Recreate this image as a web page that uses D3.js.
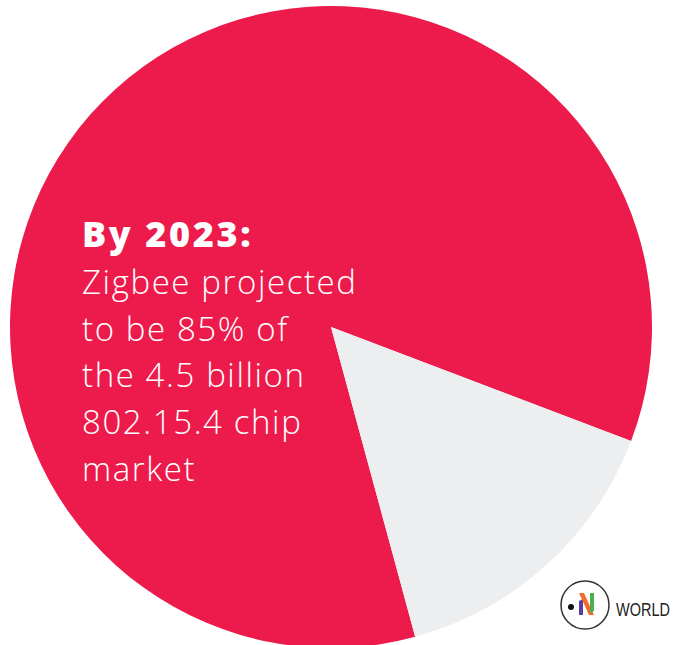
<!DOCTYPE html>
<html>
<head>
<meta charset="utf-8">
<title>Zigbee share pie</title>
<script src="https://cdn.jsdelivr.net/npm/d3@7"></script>
<style>
    body{margin:0;background:#fff;}
    svg{display:block;}
</style>
</head>
<body>
<script>

// data
const segments = ["Zigbee","Other 802.15.4"];
const shares = [85, 15];
const sliceColors = ["#ec1b4b", "#edeef0"];
const headline = "By 2023:";
const bodyLines = ["Zigbee projected","to be 85% of","the 4.5 billion","802.15.4 chip","market"];

const width = 674, height = 645;
const cx = 331, cy = 327, radius = 321;

const svg = d3.select("body").append("svg")
    .attr("width", width)
    .attr("height", height);

// the red slice starts where the grey one ends
const startDeg = 164.8;
const pie = d3.pie()
    .sort(null)
    .startAngle(startDeg * Math.PI / 180)
    .endAngle((startDeg + 360) * Math.PI / 180);

const arc = d3.arc().innerRadius(0).outerRadius(radius);

const data = segments.map((s, i) => ({name: s, value: shares[i]}));

svg.append("g")
    .attr("transform", `translate(${cx},${cy})`)
    .selectAll("path")
    .data(pie.value(d => d.value)(data))
    .join("path")
    .attr("d", arc)
    .attr("fill", (d, i) => sliceColors[i]);

// annotation
const anno = svg.append("g").attr("fill", "#fff");
anno.append("text")
    .attr("x", 82)
    .attr("y", 247)
    .style("font-family", "Open Sans, sans-serif")
    .style("font-weight", 800)
    .style("font-size", "36px")
    .style("letter-spacing", "2.6px")
    .text(headline);

anno.selectAll("text.body")
    .data(bodyLines)
    .join("text")
    .attr("class", "body")
    .attr("x", 82)
    .attr("y", (d, i) => 294 + i * 46.7)
    .style("font-family", "Open Sans, sans-serif")
    .style("font-weight", 300)
    .style("font-size", "33px")
    .style("letter-spacing", "1.6px")
    .text(d => d);

// logo
const logo = svg.append("g").attr("transform", "translate(585,605)");
logo.append("circle").attr("r", 24).attr("fill", "#fff").attr("stroke", "#333").attr("stroke-width", 1.5);
logo.append("circle").attr("cx", -14).attr("cy", 2).attr("r", 3).attr("fill", "#111");
logo.append("path").attr("d", "M-6,-4 L-2,-6 L-2,10 L-6,10 Z").attr("fill", "#5b3fa0");
logo.append("path").attr("d", "M-6,-12 L-1,-12 L9,10 L4,10 Z").attr("fill", "#f26a2e");
logo.append("path").attr("d", "M5,-12 L9,-12 L9,6 L5,8 Z").attr("fill", "#4caf50");
logo.append("text")
    .attr("x", 31).attr("y", 11)
    .attr("textLength", 54)
    .attr("lengthAdjust", "spacingAndGlyphs")
    .style("font-family", "Liberation Sans, Arial, sans-serif")
    .style("font-size", "18px")
    .attr("fill", "#222")
    .text("WORLD");

</script>
</body>
</html>
